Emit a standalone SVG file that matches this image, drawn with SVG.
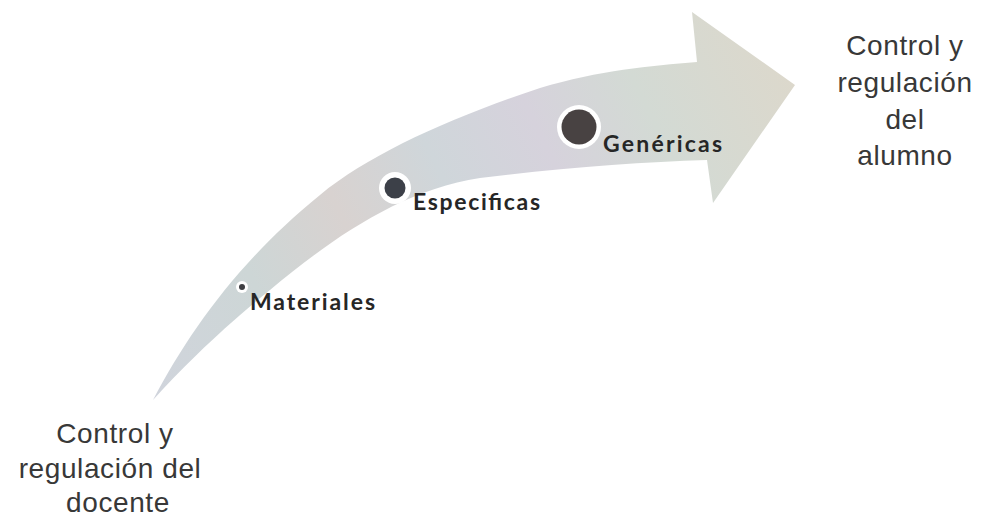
<svg xmlns="http://www.w3.org/2000/svg" width="982" height="524" viewBox="0 0 982 524">
  <style>
    .side { font-family: "Liberation Sans", Arial, sans-serif; font-size: 28px; fill: #383838; letter-spacing: 0.6px; text-anchor: middle; }
    .lbl { font-family: Lato, "Open Sans", sans-serif; font-weight: 700; font-size: 23px; fill: #262626; }
    .ring { fill: #ffffff; }
  </style>
  <defs>
    <linearGradient id="arrowFill" gradientUnits="userSpaceOnUse" x1="153" y1="400" x2="795" y2="85">
      <stop offset="0" stop-color="#d0d4dc"/>
      <stop offset="0.2" stop-color="#cdd6d6"/>
      <stop offset="0.35" stop-color="#d8d2d0"/>
      <stop offset="0.5" stop-color="#cfd6da"/>
      <stop offset="0.65" stop-color="#d6d2dc"/>
      <stop offset="0.8" stop-color="#d3dad4"/>
      <stop offset="1" stop-color="#dcd8cc"/>
    </linearGradient>
  </defs>
  <rect width="982" height="524" fill="#ffffff"/>

  <g id="connectors">
    <path id="arrow" fill="url(#arrowFill)" d="M153,400 C190,330 240,260 320,195 C370,154 450,118 540,88 C600,70 650,66 697,62 L692,12 L795,85 L713,203 L707,160 C640,162 560,168 480,178 C400,190 330,240 270,290 C220,330 180,370 153,400 Z"/>
  </g>

  <g id="node-materiales">
    <circle class="ring" cx="242" cy="287" r="6"/>
    <circle cx="242" cy="287" r="3" fill="#3e3e42"/>
    <text class="lbl" x="250" y="310" textLength="125" lengthAdjust="spacing">Materiales</text>
  </g>

  <g id="node-especificas">
    <circle class="ring" cx="395" cy="188" r="16"/>
    <circle cx="395" cy="188" r="10.5" fill="#3c4048"/>
    <text class="lbl" x="413" y="210" textLength="127" lengthAdjust="spacing">Especificas</text>
  </g>

  <g id="node-genericas">
    <circle class="ring" cx="579" cy="127" r="22"/>
    <circle cx="579" cy="127" r="17.5" fill="#484242"/>
    <text class="lbl" x="603" y="152" textLength="119" lengthAdjust="spacing">Genéricas</text>
  </g>

  <g id="node-alumno">
    <text class="side" x="905" y="55">Control y</text>
    <text class="side" x="905" y="92">regulación</text>
    <text class="side" x="905" y="129">del</text>
    <text class="side" x="905" y="165">alumno</text>
  </g>

  <g id="node-docente">
    <text class="side" x="115" y="443">Control y</text>
    <text class="side" x="110" y="478">regulación del</text>
    <text class="side" x="118" y="512">docente</text>
  </g>
</svg>
